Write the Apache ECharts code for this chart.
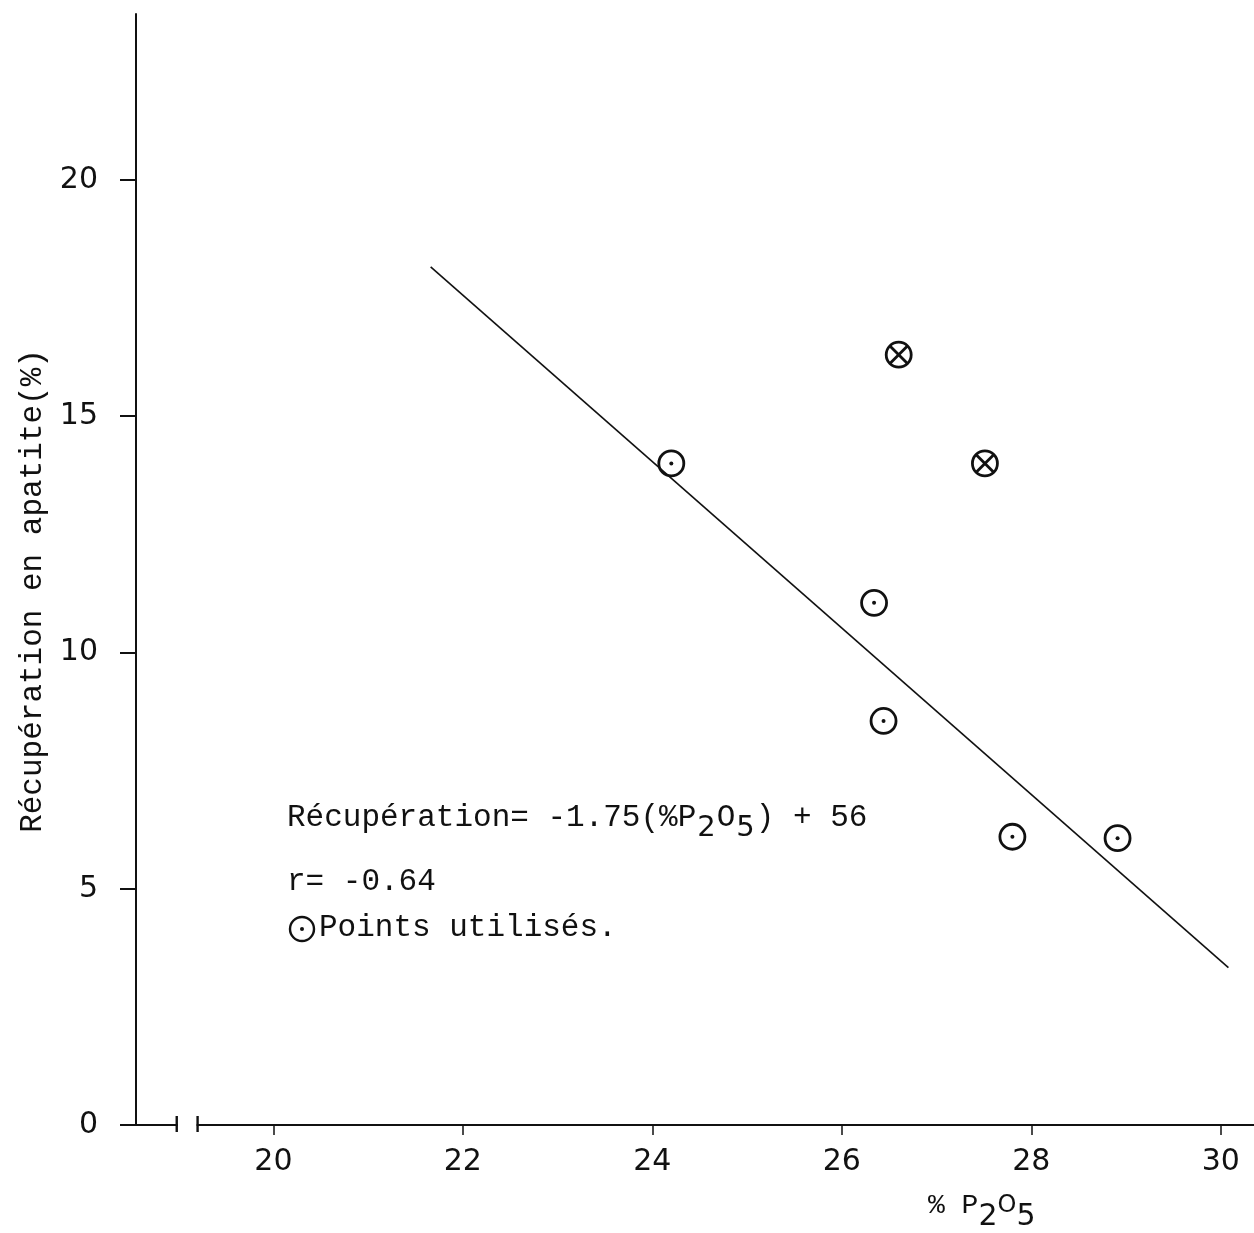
<!DOCTYPE html>
<html>
<head>
<meta charset="utf-8">
<script src="https://cdn.jsdelivr.net/npm/echarts@6/dist/echarts.min.js"></script>
<style>
    html, body { margin: 0; padding: 0; background: #fff; }
    #chart { width: 1254px; height: 1233px; }
</style>
</head>
<body>
<div id="chart"></div>
<script>
// points utilisés (⊙)
const usedP2O5 = [24.2, 26.34, 26.44, 27.8, 28.91];
const usedRecovery = [14.0, 11.05, 8.55, 6.1, 6.07];
// points écartés (⊗)
const rejectedP2O5 = [26.6, 27.51];
const rejectedRecovery = [16.3, 14.0];
// droite de régression, extrémités
const fitP2O5 = [21.66, 30.08];
const fitRecovery = [18.16, 3.33];
// coupure de l'axe des x
const xBreak = [18.98, 19.2];
const xTicks = [20, 22, 24, 26, 28, 30];
const yTicks = [0, 5, 10, 15, 20];

const ink = '#111';
const monoFont = 'Liberation Mono';
const tickFont = 'DejaVu Sans';

function zip(a, b) {
    return a.map(function (v, i) { return [v, b[i]]; });
}

// cercle avec point, ou cercle barré
function markerRender(crossed) {
    return function (params, api) {
        const p = api.coord([api.value(0), api.value(1)]);
        const r = 12.5;
        const children = [{
            type: 'circle',
            shape: { cx: p[0], cy: p[1], r: r },
            style: { fill: 'none', stroke: ink, lineWidth: 2.8 }
        }];
        if (crossed) {
            const d = r * 0.72;
            children.push({
                type: 'line',
                shape: { x1: p[0] - d, y1: p[1] - d, x2: p[0] + d, y2: p[1] + d },
                style: { stroke: ink, lineWidth: 2.8 }
            }, {
                type: 'line',
                shape: { x1: p[0] + d, y1: p[1] - d, x2: p[0] - d, y2: p[1] + d },
                style: { stroke: ink, lineWidth: 2.8 }
            });
        } else {
            children.push({
                type: 'circle',
                shape: { cx: p[0], cy: p[1], r: 2 },
                style: { fill: ink }
            });
        }
        return { type: 'group', children: children };
    };
}

function breakRender(params, api) {
    const a = api.coord([api.value(0), 0]);
    const b = api.coord([api.value(1), 0]);
    return {
        type: 'group',
        children: [
            { type: 'rect', shape: { x: a[0] + 1, y: a[1] - 3, width: b[0] - a[0] - 2, height: 6 },
              style: { fill: '#fff' } },
            { type: 'line', shape: { x1: a[0], y1: a[1] - 9, x2: a[0], y2: a[1] + 7 },
              style: { stroke: ink, lineWidth: 2.4 } },
            { type: 'line', shape: { x1: b[0], y1: b[1] - 9, x2: b[0], y2: b[1] + 7 },
              style: { stroke: ink, lineWidth: 2.4 } }
        ]
    };
}

const chart = echarts.init(document.getElementById('chart'));

const option = {
    backgroundColor: '#fff',
    animation: false,
    grid: { left: 136, right: 0, top: 14, bottom: 108, outerBoundsMode: 'none' },
    xAxis: {
        type: 'value',
        min: 18.55,
        max: 30.35,
        axisLine: { show: true, lineStyle: { color: ink, width: 2 } },
        axisTick: { show: true, customValues: xTicks, length: 10, lineStyle: { color: ink, width: 1.5 } },
        axisLabel: { customValues: xTicks, margin: 22, color: ink, fontFamily: tickFont, fontSize: 30 },
        splitLine: { show: false }
    },
    yAxis: {
        type: 'value',
        min: 0,
        max: 23.51,
        axisLine: { show: true, lineStyle: { color: ink, width: 2 } },
        axisTick: { show: true, customValues: yTicks, length: 16, lineStyle: { color: ink, width: 2 } },
        axisLabel: { customValues: yTicks, margin: 38, color: ink, fontFamily: tickFont, fontSize: 30 },
        splitLine: { show: false }
    },
    series: [
        {
            type: 'line',
            data: zip(fitP2O5, fitRecovery),
            showSymbol: false,
            lineStyle: { color: ink, width: 1.6 },
            z: 2
        },
        {
            type: 'custom',
            data: zip(usedP2O5, usedRecovery),
            renderItem: markerRender(false),
            z: 3
        },
        {
            type: 'custom',
            data: zip(rejectedP2O5, rejectedRecovery),
            renderItem: markerRender(true),
            z: 3
        },
        {
            type: 'custom',
            data: [xBreak],
            renderItem: breakRender,
            clip: false,
            z: 5
        }
    ],
    graphic: [
        {
            type: 'text',
            x: 33, y: 591,
            rotation: Math.PI / 2,
            style: {
                text: 'Récupération en apatite(%)',
                font: '31px "' + monoFont + '"',
                fill: ink,
                align: 'center',
                verticalAlign: 'middle'
            }
        },
        {
            type: 'text',
            x: 287, y: 802,
            style: {
                text: '{n|Récupération= -1.75(%P}{s|2}{n|O}{s|5}{n|) + 56}',
                fill: ink,
                rich: {
                    n: { font: '31px "' + monoFont + '"', lineHeight: 36, verticalAlign: 'top', fill: ink },
                    s: { font: '29px "' + tickFont + '"', lineHeight: 36, padding: [12, 1, 0, 1], verticalAlign: 'top', fill: ink }
                }
            }
        },
        {
            type: 'text',
            x: 287, y: 866,
            style: { text: 'r= -0.64', font: '31px "' + monoFont + '"', fill: ink }
        },
        {
            type: 'circle',
            shape: { cx: 302, cy: 929, r: 12 },
            style: { fill: 'none', stroke: ink, lineWidth: 2.4 }
        },
        {
            type: 'circle',
            shape: { cx: 302, cy: 929, r: 2 },
            style: { fill: ink }
        },
        {
            type: 'text',
            x: 319, y: 912,
            style: { text: 'Points utilisés.', font: '31px "' + monoFont + '"', fill: ink }
        },
        {
            type: 'text',
            x: 928, y: 1192,
            style: {
                text: '{n|% P}{s|2}{o|O}{s|5}',
                fill: ink,
                rich: {
                    n: { font: '28px "' + monoFont + '"', lineHeight: 30, verticalAlign: 'top', fill: ink },
                    o: { font: '24px "' + tickFont + '"', lineHeight: 30, padding: [2, 0, 0, 0], verticalAlign: 'top', fill: ink },
                    s: { font: '30px "' + tickFont + '"', lineHeight: 30, padding: [10, 0, 0, 0], verticalAlign: 'top', fill: ink }
                }
            }
        }
    ]
};

chart.setOption(option);
</script>
</body>
</html>
